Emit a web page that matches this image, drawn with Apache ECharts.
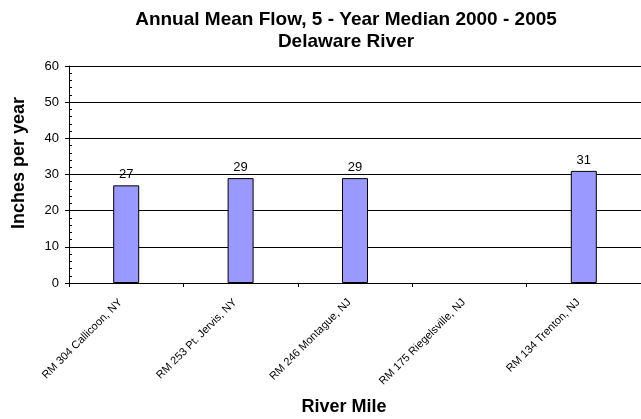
<!DOCTYPE html>
<html>
<head>
<meta charset="utf-8">
<script src="https://cdn.jsdelivr.net/npm/echarts@6/dist/echarts.min.js"></script>
<style>html,body{margin:0;padding:0;background:#fff;}#c{width:641px;height:419px;}</style>
</head>
<body>
<div id="c"></div>
<script>
const categories = ['RM 304 Callicoon, NY', 'RM 253 Pt. Jervis, NY', 'RM 246 Montague, NJ', 'RM 175 Riegelsville, NJ', 'RM 134 Trenton, NJ'];
const flowValues = [27, 29, 29, null, 31];
const yTicks = [0, 10, 20, 30, 40, 50, 60];

const chart = echarts.init(document.getElementById('c'), null, {renderer: 'canvas'});
const font = '"Liberation Sans", Arial, sans-serif';
const gridPos = {left: 69, top: 66, width: 585, height: 217};
chart.setOption({
  animation: false,
  backgroundColor: '#fff',
  title: [
    {text: 'Annual Mean Flow, 5 - Year Median 2000 - 2005\nDelaware River', left: 341, top: 4, textAlign: 'center',
     textStyle: {fontFamily: font, fontSize: 19, fontWeight: 'bold', color: '#000', lineHeight: 22}},
    {text: 'River Mile', left: 339, top: 393, textAlign: 'center',
     textStyle: {fontFamily: font, fontSize: 18, fontWeight: 'bold', color: '#000'}}
  ],
  graphic: [{
    type: 'text', x: 19, y: 163, rotation: Math.PI / 2,
    style: {text: 'Inches per year', font: 'bold 18px "Liberation Sans", Arial, sans-serif', fill: '#000', align: 'center', verticalAlign: 'middle'}
  }],
  grid: [gridPos, gridPos],
  xAxis: [{
    type: 'category', data: categories, gridIndex: 0,
    axisLine: {lineStyle: {color: '#000', width: 1}},
    axisTick: {show: true, length: 4, lineStyle: {color: '#000'}},
    axisLabel: {rotate: 45, interval: 0, fontFamily: font, fontSize: 11, color: '#000', margin: 12, padding: [0, 8, 0, 0]}
  }, {
    type: 'category', data: categories, gridIndex: 1, show: false
  }],
  yAxis: [{
    type: 'value', min: yTicks[0], max: yTicks[yTicks.length - 1], interval: 10, gridIndex: 0,
    axisLine: {show: true, lineStyle: {color: '#000'}},
    axisTick: {show: true, length: 4, lineStyle: {color: '#000'}},
    axisLabel: {fontFamily: font, fontSize: 13, color: '#000', margin: 10},
    splitLine: {show: true, lineStyle: {color: '#000', width: 1}}
  }, {
    type: 'value', min: 0, max: 60, interval: 2, gridIndex: 1,
    axisLine: {show: false},
    axisTick: {show: true, inside: true, length: 3, lineStyle: {color: '#000'}},
    axisLabel: {show: false},
    splitLine: {show: false}
  }],
  series: [{
    type: 'bar', data: flowValues, xAxisIndex: 0, yAxisIndex: 0,
    barWidth: 26,
    itemStyle: {color: '#9999FF', borderColor: '#000', borderWidth: 1},
    label: {show: true, position: 'top', distance: 4, fontFamily: font, fontSize: 13, color: '#000'}
  }]
});
</script>
</body>
</html>
